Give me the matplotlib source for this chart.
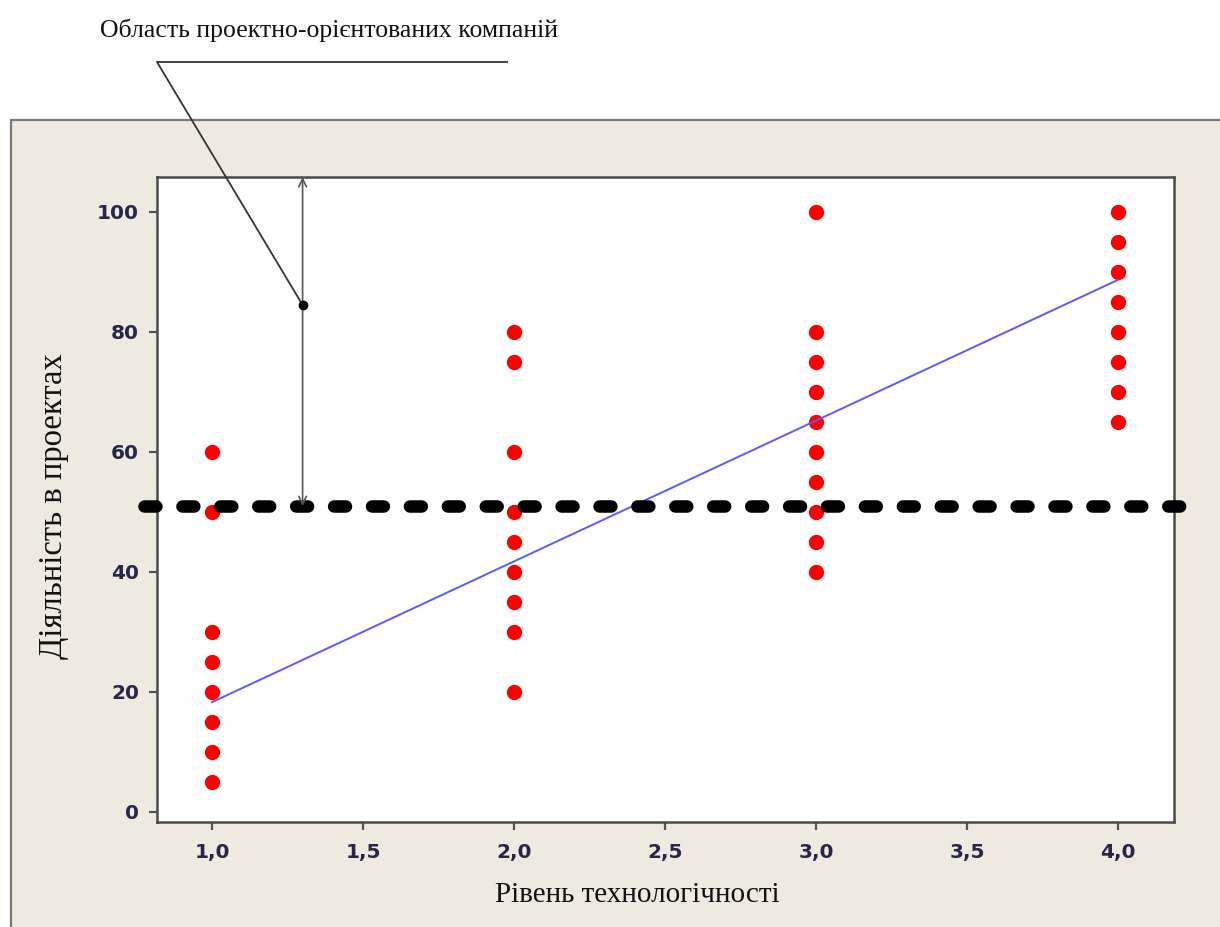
import numpy as np
import matplotlib
matplotlib.use("Agg")
import matplotlib.pyplot as plt
from matplotlib.patches import Rectangle

# ---- data ----
x_levels = [1.0, 2.0, 3.0, 4.0]
y_level1 = [60, 50, 30, 25, 20, 15, 10, 5]
y_level2 = [80, 75, 60, 50, 45, 40, 35, 30, 20]
y_level3 = [100, 80, 75, 70, 65, 60, 55, 50, 45, 40]
y_level4 = [100, 95, 90, 85, 80, 75, 70, 65]
trend_x = [1.0, 4.0]
trend_y = [18.3, 88.7]
threshold = 51
callout_x = 1.3
callout_dot_y = 84.5
x_ticks = [1.0, 1.5, 2.0, 2.5, 3.0, 3.5, 4.0]
x_ticklabels = ["1,0", "1,5", "2,0", "2,5", "3,0", "3,5", "4,0"]
y_ticks = [0, 20, 40, 60, 80, 100]
title_text = "Область проектно-орієнтованих компаній"
xlabel_text = "Рівень технологічності"
ylabel_text = "Діяльність в проектах"

plt.rcParams['lines.scale_dashes'] = False

W, H = 1220, 927
fig = plt.figure(figsize=(W / 100, H / 100), dpi=100)
fig.patch.set_facecolor("white")

# beige panel
panel = Rectangle((11 / W, -0.01), 1.1, 1 - 120 / H + 0.01, transform=fig.transFigure,
                  facecolor="#EEEAE0", edgecolor="#7a7a7a", linewidth=1.6, zorder=-5)
fig.patches.append(panel)

left, right, top, bottom = 157, 1174, 177, 822
ax = fig.add_axes([left / W, 1 - bottom / H, (right - left) / W, (bottom - top) / H])
ax.set_zorder(2)
ax.set_facecolor("white")
ax.set_xlim(0.818, 4.185)
ax.set_ylim(-1.67, 105.83)

for s in ax.spines.values():
    s.set_color("#4a4a4a")
    s.set_linewidth(1.8)

# points
ys = [y_level1, y_level2, y_level3, y_level4]
for xv, yv in zip(x_levels, ys):
    ax.plot([xv] * len(yv), yv, linestyle="none", marker="o", ms=10,
            color="#ff0000", mec="#ff0000", zorder=3)

# trend line
ax.plot(trend_x, trend_y, color="#5a5aff", lw=1.4, zorder=4)

# threshold dashed line
ax.plot([0.775, 4.236], [threshold, threshold], color="black", lw=9.0,
        dashes=(8.6, 18.7), solid_capstyle="round", dash_capstyle="round",
        clip_on=False, zorder=5)

# double arrow
ax.annotate("", xy=(callout_x, 105.8), xytext=(callout_x, threshold),
            arrowprops=dict(arrowstyle="<->", color="#555555", lw=1.2,
                            shrinkA=0, shrinkB=0, mutation_scale=14),
            annotation_clip=False, zorder=6)
ax.plot([callout_x], [callout_dot_y], marker="o", ms=6, color="black", zorder=7)

# callout leader
ax.plot([callout_x, 0.818, 1.977], [callout_dot_y, 125.0, 125.0], color="#333333",
        lw=1.3, clip_on=False, zorder=6)
ax.text(1.389, 130.3, title_text, ha="center", va="center", fontsize=18.5,
        family="Liberation Serif", color="#111111", clip_on=False)

# ticks
ax.set_xticks(x_ticks)
ax.set_xticklabels(x_ticklabels)
ax.set_yticks(y_ticks)
ax.tick_params(axis="both", direction="out", length=6, width=1.6, color="#555555",
               labelsize=14.5, labelcolor="#26264a")
ax.tick_params(axis="x", pad=9)
ax.tick_params(axis="y", pad=7)
for lab in ax.get_xticklabels() + ax.get_yticklabels():
    lab.set_fontweight("bold")
    lab.set_family("DejaVu Sans")

ax.set_xlabel(xlabel_text, family="Liberation Serif", fontsize=21, color="#111111")
ax.set_ylabel(ylabel_text, family="Liberation Serif", fontsize=23.5, color="#111111")
ax.xaxis.set_label_coords((637 - left) / (right - left), (bottom - 895) / (bottom - top))
ax.yaxis.set_label_coords((54 - left) / (right - left), (bottom - 506) / (bottom - top))
ax.xaxis.label.set_va("center")
ax.yaxis.label.set_va("center")

fig.savefig("out.png", dpi=100, facecolor=fig.get_facecolor())
